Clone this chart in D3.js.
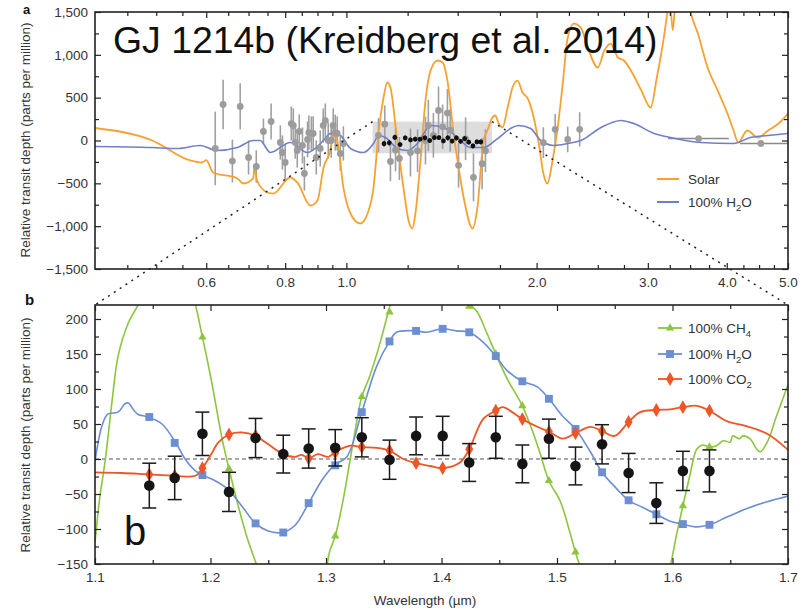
<!DOCTYPE html>
<html><head><meta charset="utf-8">
<script src="https://cdn.jsdelivr.net/npm/d3@7"></script>
<style>body{margin:0;background:#fff} text{font-family:"Liberation Sans",Arial,sans-serif}</style>
</head><body><svg id="c" width="808" height="610"></svg>
<script>
// ---------- Panel a data ----------
const solarWl = [0.4,0.493,0.566,0.59,0.6,0.615,0.672,0.687,0.712,0.715,0.722,0.75,0.766,0.815,0.836,0.877,0.9,0.92,0.943,0.953,0.967,0.989,1.015,1.052,1.08,1.104,1.124,1.145,1.161,1.174,1.2,1.231,1.254,1.272,1.286,1.31,1.334,1.359,1.394,1.42,1.445,1.478,1.505,1.533,1.584,1.612,1.648,1.672,1.702,1.72,1.742,1.766,1.8,1.832,1.866,1.9,1.937,1.972,2.016,2.05,2.08,2.12,2.16,2.2,2.24,2.29,2.35,2.41,2.5,2.56,2.62,2.69,2.75,2.82,2.93,3.03,3.1,3.18,3.22,3.25,3.285,3.32,3.42,3.51,3.6,3.73,3.87,4.01,4.1,4.17,4.31,4.48,4.65,4.83,5.0];
const solarPpm = [146,0,-233,-257,-230,-373,-443,-502,-443,-315,-467,-607,-619,-432,-490,-759,-700,-315,-117,58,0,-548,-852,-969,-852,-548,82,502,677,618,82,-548,-934,-1027,-852,-233,467,817,934,910,700,82,-315,-665,-1027,-782,0,117,268,292,198,152,385,618,700,560,490,315,-35,-385,-502,-233,152,665,1200,1365,1318,1085,852,1050,1132,969,934,817,583,385,735,1202,1480,1650,1290,1650,1900,1482,1248,852,583,315,117,-23,117,35,117,198,315];
const waterAWl = [0.4,0.493,0.54,0.587,0.624,0.672,0.712,0.73,0.758,0.815,0.867,0.92,0.943,0.978,1.015,1.064,1.104,1.124,1.153,1.205,1.249,1.296,1.359,1.424,1.499,1.572,1.648,1.735,1.819,1.873,1.957,2.03,2.13,2.24,2.35,2.53,2.72,2.85,3.07,3.26,3.64,4.1,4.36,4.65,5.0];
const waterAPpm = [-70,-82,-93,-58,-117,-82,0,0,-140,-23,-140,0,82,58,-93,-140,-35,58,35,-93,-117,-35,175,152,35,-82,-82,23,140,175,140,0,-58,-35,0,152,233,198,82,35,-23,-35,35,58,82];
const grayWl  = [0.62,0.638,0.66,0.679,0.70,0.72,0.739,0.76,0.786,0.792,0.80,0.818,0.824,0.83,0.836,0.842,0.852,0.858,0.868,0.872,0.88,0.886,0.896,0.909,0.919,0.926,0.936,0.946,0.953,0.96,0.967,0.978,0.989,1.124,1.15,1.174,1.196,1.213,1.263,1.296,1.334,1.348,1.373,1.399,1.42,1.445,1.46,1.505,1.544,1.589,1.64,1.66,2.05,2.14,2.24,2.34,3.61,4.53];
const grayPpm = [-93,420,-240,397,-198,-303,105,222,-23,-140,-257,198,175,-23,-117,105,-58,-385,12,93,82,82,-198,-93,175,233,0,0,175,93,82,-152,-35,60,190,-245,-110,-210,-140,-120,0,175,60,350,160,320,120,-290,20,-430,-270,-120,-25,130,12,130,23,-35];
const grayErr = [430,290,250,270,200,190,150,210,200,200,220,200,200,190,200,200,210,200,210,200,200,200,200,210,200,200,210,200,200,210,200,200,200,200,220,230,250,250,280,250,280,300,260,280,260,280,250,260,250,280,300,250,180,180,150,200,0,0];
const grayWlLo = [3.23,4.2];
const grayWlHi = [4.03,5.0];
const grayWlErrIdx = [56,57];
const zoomBoxWl = [1.1,1.7];
const zoomBoxPpm = [-150,220];

// ---------- Panel b data ----------
const dataWl = [1.147,1.169,1.193,1.216,1.239,1.263,1.285,1.308,1.331,1.355,1.378,1.401,1.424,1.447,1.470,1.493,1.516,1.539,1.562,1.586,1.609,1.632];
const dataDepth = [-38,-27,36,-47,30,7,15,16,31,-1,33,33,-5,31,-7,29,-10,21,-20,-63,-17,-17];
const dataErr = [32,31,31,28,28,27,28,26,28,28,27,28,27,30,27,28,27,28,28,29,28,30];
const ch4Bin = [300,320,174,-14,-200,-300,-250,-110,89,210,350,380,218,150,76,-31,-133,-250,-300,-250,-67,17];
const h2oBin = [60,23,-23,-47,-92,-105,-63,-9,67,168,183,186,181,147,111,86,43,-19,-59,-79,-93,-94];
const co2Bin = [-22,-24,-13,35,33,7,1,9,17,12,-6,-13,14,69,57,39,37,40,53,70,74,69];

const ch4Wl = [1.1,1.104,1.109,1.115,1.12,1.129,1.137,1.145,1.16,1.175,1.185,1.193,1.201,1.21,1.216,1.224,1.232,1.239,1.25,1.27,1.29,1.3,1.303,1.308,1.315,1.321,1.327,1.331,1.338,1.347,1.354,1.36,1.39,1.41,1.425,1.431,1.439,1.447,1.457,1.47,1.479,1.485,1.493,1.503,1.511,1.516,1.52,1.54,1.57,1.59,1.598,1.604,1.609,1.615,1.621,1.626,1.632,1.638,1.644,1.65,1.652,1.658,1.661,1.667,1.673,1.676,1.682,1.69,1.7];
const ch4Line = [-119,-57,0,86,147,195,219,245,262,255,229,174,110,29,-14,-67,-114,-147,-200,-250,-210,-160,-133,-110,-57,0,57,89,119,167,210,240,280,270,221,210,181,150,114,76,39,10,-31,-61,-104,-133,-153,-220,-260,-200,-153,-104,-67,-24,14,20,17,19,26,24,33,29,33,29,14,10,24,61,106];
const h2oWl = [1.1,1.106,1.111,1.12,1.126,1.129,1.133,1.137,1.146,1.158,1.170,1.178,1.187,1.193,1.204,1.215,1.227,1.239,1.25,1.262,1.273,1.285,1.297,1.307,1.318,1.331,1.344,1.355,1.361,1.378,1.387,1.401,1.413,1.424,1.436,1.447,1.457,1.47,1.483,1.493,1.505,1.516,1.529,1.539,1.552,1.562,1.574,1.586,1.598,1.609,1.621,1.632,1.647,1.664,1.682,1.7];
const h2oLine = [-3,47,64,67,79,80,71,64,60,50,23,0,-17,-23,-31,-43,-67,-92,-103,-105,-95,-63,-29,-9,3,67,133,168,181,183,181,186,183,181,167,147,126,111,103,86,61,43,10,-19,-43,-59,-69,-79,-89,-93,-97,-94,-83,-71,-61,-53];
const co2Wl = [1.1,1.123,1.146,1.169,1.187,1.193,1.2,1.207,1.216,1.227,1.239,1.25,1.263,1.273,1.279,1.285,1.293,1.302,1.308,1.321,1.331,1.344,1.355,1.367,1.378,1.39,1.401,1.416,1.424,1.436,1.447,1.453,1.47,1.483,1.493,1.505,1.516,1.529,1.539,1.55,1.562,1.572,1.586,1.598,1.609,1.621,1.632,1.647,1.664,1.682,1.7];
const co2Line = [-19,-20,-22,-24,-24,-13,5,24,35,38,33,21,7,3,6,1,7,3,10,19,17,16,12,0,-6,-10,-13,-5,14,57,69,74,57,46,39,29,37,46,40,33,53,67,70,71,74,76,69,54,47,36,13];

// ---------- ticks ----------
const aYMajor = [-1500,-1000,-500,0,500,1000,1500];
const aYMinor = [-1250,-750,-250,250,750,1250];
const aXMajor = [0.6,0.8,1.0,2.0,3.0,4.0,5.0];
const aXMinor = [0.45,0.5,0.55,0.65,0.7,0.75,0.85,0.9,0.95,1.25,1.5,1.75,2.25,2.5,2.75,3.25,3.5,3.75,4.25,4.5,4.75];
const bYMajor = [-150,-100,-50,0,50,100,150,200];
const bYMinor = [-125,-75,-25,25,75,125,175];
const bXMajor = [1.1,1.2,1.3,1.4,1.5,1.6,1.7];
const bXMinor = [1.15,1.25,1.35,1.45,1.55,1.65];

const C = {solar:"#F6A233", water:"#6F80C8", gray:"#9a9a9a", ch4:"#8CC63F", h2o:"#6C8ED2", co2:"#EE5527", ink:"#333"};

const svg = d3.select("#c");
const L=95, R=788;
const xA = d3.scaleLog().domain([0.4,5]).range([L,R]);
const yA = d3.scaleLinear().domain([-1500,1500]).range([269,12]);
const xB = d3.scaleLinear().domain([1.1,1.7]).range([L,R]);
const yB = d3.scaleLinear().domain([-150,220]).range([564,305]);

const defs = svg.append("defs");
defs.append("clipPath").attr("id","clipA").append("rect").attr("x",L).attr("y",12).attr("width",R-L).attr("height",257);
defs.append("clipPath").attr("id","clipB").append("rect").attr("x",L).attr("y",305).attr("width",R-L).attr("height",259);

function axes(g, x, y, xMaj, xMin, yMaj, yMin, xfmt, yfmt, top, bottom){
  const fs = 13.5;
  g.append("g").attr("transform",`translate(${L},0)`).call(d3.axisLeft(y).tickValues(yMaj).tickSizeInner(-6).tickSizeOuter(0).tickPadding(7).tickFormat(yfmt));
  g.append("g").attr("transform",`translate(${L},0)`).call(d3.axisLeft(y).tickValues(yMin).tickSizeInner(-4).tickSizeOuter(0).tickFormat(""));
  g.append("g").attr("transform",`translate(${R},0)`).call(d3.axisRight(y).tickValues(yMaj).tickSizeInner(-6).tickSizeOuter(0).tickFormat(""));
  g.append("g").attr("transform",`translate(${R},0)`).call(d3.axisRight(y).tickValues(yMin).tickSizeInner(-4).tickSizeOuter(0).tickFormat(""));
  g.append("g").attr("transform",`translate(0,${bottom})`).call(d3.axisBottom(x).tickValues(xMaj).tickSizeInner(-6).tickSizeOuter(0).tickPadding(8).tickFormat(xfmt));
  g.append("g").attr("transform",`translate(0,${bottom})`).call(d3.axisBottom(x).tickValues(xMin).tickSizeInner(-4).tickSizeOuter(0).tickFormat(""));
  g.append("g").attr("transform",`translate(0,${top})`).call(d3.axisTop(x).tickValues(xMaj).tickSizeInner(-6).tickSizeOuter(0).tickFormat(""));
  g.append("g").attr("transform",`translate(0,${top})`).call(d3.axisTop(x).tickValues(xMin).tickSizeInner(-4).tickSizeOuter(0).tickFormat(""));
  g.selectAll(".domain").remove();
  g.selectAll(".tick line").attr("stroke","#222").attr("stroke-width",1.2);
  g.selectAll(".tick text").attr("fill",C.ink).style("font-size",fs+"px").style("font-family",'"Liberation Sans",Arial,sans-serif');
  g.append("rect").attr("x",L).attr("y",top).attr("width",R-L).attr("height",bottom-top).attr("fill","none").attr("stroke","#222").attr("stroke-width",1.6);
}

// ================= Panel a =================
const gA = svg.append("g");
const pA = gA.append("g").attr("clip-path","url(#clipA)");
pA.append("rect").attr("x",xA(zoomBoxWl[0])).attr("y",yA(zoomBoxPpm[1])).attr("width",xA(zoomBoxWl[1])-xA(zoomBoxWl[0])).attr("height",yA(zoomBoxPpm[0])-yA(zoomBoxPpm[1])).attr("fill","#d4d4d4").attr("opacity",0.8);
const grayIdx = d3.range(grayWl.length);
pA.selectAll(".gerr").data(grayIdx.filter(i=>grayErr[i]>0)).join("line")
  .attr("x1",i=>xA(grayWl[i])).attr("x2",i=>xA(grayWl[i]))
  .attr("y1",i=>yA(grayPpm[i]-grayErr[i])).attr("y2",i=>yA(grayPpm[i]+grayErr[i]))
  .attr("stroke","#a0a0a0").attr("stroke-width",1.6);
pA.selectAll(".gxerr").data(grayWlErrIdx).join("line")
  .attr("x1",(d,k)=>xA(grayWlLo[k])).attr("x2",(d,k)=>xA(grayWlHi[k]))
  .attr("y1",d=>yA(grayPpm[d])).attr("y2",d=>yA(grayPpm[d]))
  .attr("stroke","#8a8a8a").attr("stroke-width",1.4);
const lineA = (wl,v)=>d3.line().x(i=>xA(wl[i])).y(i=>yA(v[i])).curve(d3.curveMonotoneX)(d3.range(wl.length));
pA.append("path").attr("d",lineA(solarWl,solarPpm)).attr("fill","none").attr("stroke",C.solar).attr("stroke-width",1.8);
pA.append("path").attr("d",lineA(waterAWl,waterAPpm)).attr("fill","none").attr("stroke",C.water).attr("stroke-width",1.6);
pA.selectAll(".gpt").data(grayIdx).join("circle")
  .attr("cx",i=>xA(grayWl[i])).attr("cy",i=>yA(grayPpm[i])).attr("r",3.4).attr("fill","#9c9c9c");
const dIdx = d3.range(dataWl.length);
pA.selectAll(".berr").data(dIdx).join("line")
  .attr("x1",i=>xA(dataWl[i])).attr("x2",i=>xA(dataWl[i]))
  .attr("y1",i=>yA(dataDepth[i]-dataErr[i])).attr("y2",i=>yA(dataDepth[i]+dataErr[i]))
  .attr("stroke","#111").attr("stroke-width",1.2);
pA.selectAll(".bpt").data(dIdx).join("circle")
  .attr("cx",i=>xA(dataWl[i])).attr("cy",i=>yA(dataDepth[i])).attr("r",2.4).attr("fill","#111");
axes(gA, xA, yA, aXMajor, aXMinor, aYMajor, aYMinor, d3.format(".1f"), d3.format(","), 12, 269);

const legA = [{t:"Solar",c:C.solar,y:179},{t:"100% H",sub:"2",t2:"O",c:C.water,y:202}];
legA.forEach(d=>{
  gA.append("line").attr("x1",657).attr("x2",679).attr("y1",d.y).attr("y2",d.y).attr("stroke",d.c).attr("stroke-width",2);
  const t = gA.append("text").attr("x",688).attr("y",d.y+5).attr("fill",C.ink).style("font-size","13.5px").text(d.t);
  if(d.sub){ t.append("tspan").attr("dy",4).style("font-size","9.5px").text(d.sub); t.append("tspan").attr("dy",-4).text(d.t2); }
});
gA.append("text").attr("x",113).attr("y",53).style("font-size","37.4px").attr("fill","#111").text("GJ 1214b (Kreidberg et al. 2014)");

// ================= Panel b =================
const gB = svg.append("g");
const pB = gB.append("g").attr("clip-path","url(#clipB)");
pB.append("line").attr("x1",L).attr("x2",R).attr("y1",yB(0)).attr("y2",yB(0)).attr("stroke","#555").attr("stroke-width",1).attr("stroke-dasharray","4,3");
const lineB = (wl,v)=>d3.line().x(i=>xB(wl[i])).y(i=>yB(v[i])).curve(d3.curveCatmullRom.alpha(0.5))(d3.range(wl.length));
pB.append("path").attr("d",lineB(ch4Wl,ch4Line)).attr("fill","none").attr("stroke",C.ch4).attr("stroke-width",1.6);
pB.append("path").attr("d",lineB(h2oWl,h2oLine)).attr("fill","none").attr("stroke",C.h2o).attr("stroke-width",1.6);
pB.append("path").attr("d",lineB(co2Wl,co2Line)).attr("fill","none").attr("stroke",C.co2).attr("stroke-width",1.8);
const inB = v=>v>=-150&&v<=220;
const tri = d3.symbol().type(d3.symbolTriangle).size(30)();
const sq = d3.symbol().type(d3.symbolSquare).size(62)();
const dia = d3.symbol().type(d3.symbolDiamond).size(55)();
pB.selectAll(".m1").data(dIdx.filter(i=>inB(ch4Bin[i]))).join("path").attr("d",tri)
  .attr("transform",i=>`translate(${xB(dataWl[i])},${yB(ch4Bin[i])})`).attr("fill",C.ch4);
pB.selectAll(".m2").data(dIdx).join("path").attr("d",sq)
  .attr("transform",i=>`translate(${xB(dataWl[i])},${yB(h2oBin[i])})`).attr("fill",C.h2o);
pB.selectAll(".m3").data(dIdx).join("path").attr("d",dia)
  .attr("transform",i=>`translate(${xB(dataWl[i])},${yB(co2Bin[i])})`).attr("fill",C.co2);
const eb = pB.selectAll(".eb").data(dIdx).join("g").attr("stroke","#1a1a1a").attr("stroke-width",1.5);
eb.append("line").attr("x1",i=>xB(dataWl[i])).attr("x2",i=>xB(dataWl[i])).attr("y1",i=>yB(dataDepth[i]-dataErr[i])).attr("y2",i=>yB(dataDepth[i]+dataErr[i]));
eb.append("line").attr("x1",i=>xB(dataWl[i])-7).attr("x2",i=>xB(dataWl[i])+7).attr("y1",i=>yB(dataDepth[i]-dataErr[i])).attr("y2",i=>yB(dataDepth[i]-dataErr[i]));
eb.append("line").attr("x1",i=>xB(dataWl[i])-7).attr("x2",i=>xB(dataWl[i])+7).attr("y1",i=>yB(dataDepth[i]+dataErr[i])).attr("y2",i=>yB(dataDepth[i]+dataErr[i]));
pB.selectAll(".dp").data(dIdx).join("circle").attr("cx",i=>xB(dataWl[i])).attr("cy",i=>yB(dataDepth[i])).attr("r",5.3).attr("fill","#151515");
axes(gB, xB, yB, bXMajor, bXMinor, bYMajor, bYMinor, d3.format(".1f"), d3.format(""), 305, 564);

const legB = [{t:"100% CH",sub:"4",t2:"",c:C.ch4,y:328,m:tri},{t:"100% H",sub:"2",t2:"O",c:C.h2o,y:354,m:sq},{t:"100% CO",sub:"2",t2:"",c:C.co2,y:379,m:dia}];
legB.forEach(d=>{
  gB.append("line").attr("x1",658).attr("x2",682).attr("y1",d.y).attr("y2",d.y).attr("stroke",d.c).attr("stroke-width",1.8);
  gB.append("path").attr("d",d.m).attr("transform",`translate(670,${d.y})`).attr("fill",d.c);
  const t = gB.append("text").attr("x",688).attr("y",d.y+5).attr("fill",C.ink).style("font-size","13.5px").text(d.t);
  t.append("tspan").attr("dy",4).style("font-size","9.5px").text(d.sub); t.append("tspan").attr("dy",-4).text(d.t2);
});
gB.append("text").attr("x",124).attr("y",545).style("font-size","40px").attr("fill","#111").text("b");

svg.append("text").attr("transform","translate(30,140) rotate(-90)").attr("text-anchor","middle").attr("fill",C.ink).style("font-size","13.5px").text("Relative transit depth (parts per million)");
svg.append("text").attr("transform","translate(30,435) rotate(-90)").attr("text-anchor","middle").attr("fill",C.ink).style("font-size","13.5px").text("Relative transit depth (parts per million)");
svg.append("text").attr("x",425).attr("y",605).attr("text-anchor","middle").attr("fill",C.ink).style("font-size","13.5px").text("Wavelength (\u00b5m)");
svg.append("text").attr("x",23).attr("y",14).attr("fill","#111").style("font-size","13px").style("font-weight","bold").text("a");
svg.append("text").attr("x",25).attr("y",305).attr("fill","#111").style("font-size","15px").style("font-weight","bold").text("b");

const conn = [[zoomBoxWl[0],L],[zoomBoxWl[1],R]];
svg.selectAll(".conn").data(conn).join("line")
  .attr("x1",d=>xA(d[0])).attr("y1",yA(zoomBoxPpm[1]))
  .attr("x2",d=>d[1]).attr("y2",yB(220))
  .attr("stroke","#222").attr("stroke-width",1.5).attr("stroke-dasharray","2,5");
</script></body></html>
